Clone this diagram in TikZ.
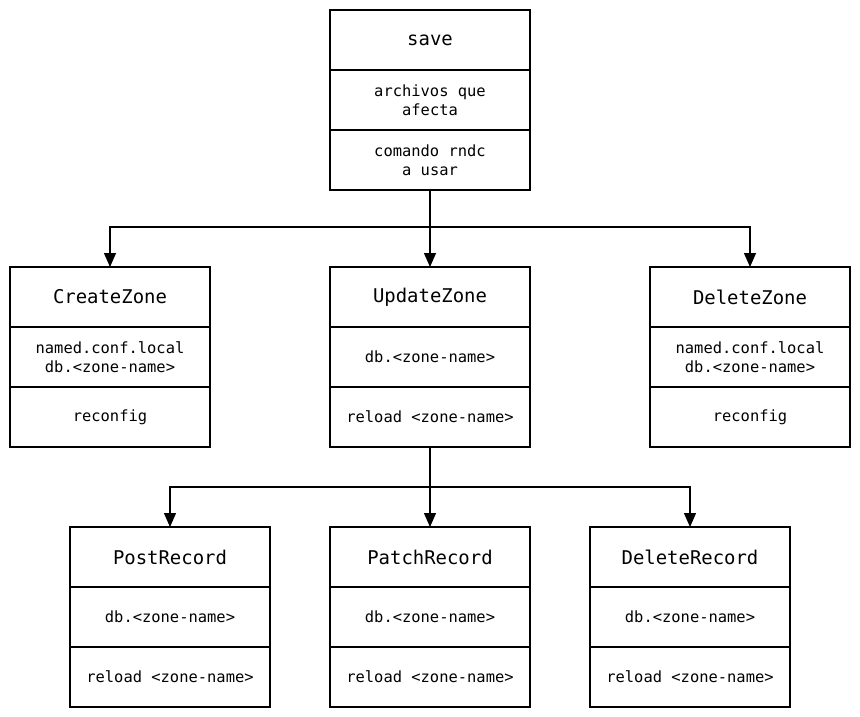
\documentclass[tikz,border=0pt]{standalone}
\usepackage{fontspec}
\setmonofont{DejaVu Sans Mono}
\usetikzlibrary{positioning, arrows.meta}

\tikzset{
  cell/.style={draw, line width=1.3bp, minimum width=200bp, minimum height=60bp,
    outer sep=0pt, inner sep=0pt, align=center,
    font=\ttfamily\fontsize{15.5}{19}\selectfont},
  head/.style={cell, font=\ttfamily\fontsize{19}{22}\selectfont},
  link/.style={line width=1.3bp, -{Triangle[length=14bp,width=12bp]}}
}

\begin{document}
\begin{tikzpicture}[x=1bp,y=-1bp]
        \useasboundingbox (0,0) rectangle (860,717);

        % top box
        \node[head] at (430,40) (save) {save};
        \node[cell,below=0pt of save] (save-files) {archivos que\\afecta};
        \node[cell,below=0pt of save-files] (save-cmd) {comando rndc\\a usar};

        % zones
        \node[head] at (110,297) (create) {CreateZone};
        \node[cell,below=0pt of create] (create-files) {named.conf.local\\db.<zone-name>};
        \node[cell,below=0pt of create-files] (create-cmd) {reconfig};

        \node[head] at (430,297) (update) {UpdateZone};
        \node[cell,below=0pt of update] (update-files) {db.<zone-name>};
        \node[cell,below=0pt of update-files] (update-cmd) {reload <zone-name>};

        \node[head] at (750,297) (delete) {DeleteZone};
        \node[cell,below=0pt of delete] (delete-files) {named.conf.local\\db.<zone-name>};
        \node[cell,below=0pt of delete-files] (delete-cmd) {reconfig};

        % records
        \node[head] at (170,557) (post) {PostRecord};
        \node[cell,below=0pt of post] (post-files) {db.<zone-name>};
        \node[cell,below=0pt of post-files] (post-cmd) {reload <zone-name>};

        \node[head] at (430,557) (patch) {PatchRecord};
        \node[cell,below=0pt of patch] (patch-files) {db.<zone-name>};
        \node[cell,below=0pt of patch-files] (patch-cmd) {reload <zone-name>};

        \node[head] at (690,557) (delrec) {DeleteRecord};
        \node[cell,below=0pt of delrec] (delrec-files) {db.<zone-name>};
        \node[cell,below=0pt of delrec-files] (delrec-cmd) {reload <zone-name>};

        % connectors
        \draw[link] (save-cmd.south) -- (update.north);
        \draw[link] (save-cmd.south) -- ++(0,37) -| (create.north);
        \draw[link] (save-cmd.south) -- ++(0,37) -| (delete.north);

        \draw[link] (update-cmd.south) -- (patch.north);
        \draw[link] (update-cmd.south) -- ++(0,40) -| (post.north);
        \draw[link] (update-cmd.south) -- ++(0,40) -| (delrec.north);
    \end{tikzpicture}
\end{document}
